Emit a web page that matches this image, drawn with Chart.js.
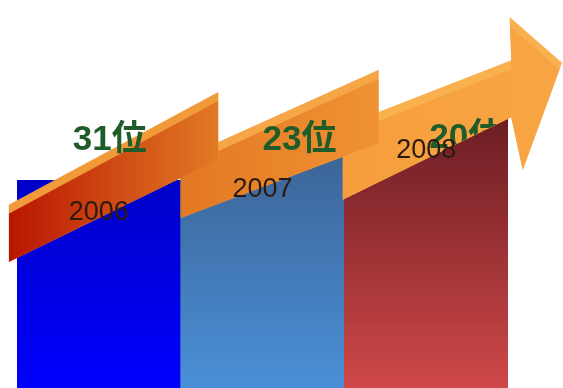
<!DOCTYPE html>
<html>
<head>
<meta charset="utf-8">
<script src="https://cdn.jsdelivr.net/npm/chart.js@4.4.1/dist/chart.umd.min.js"></script>
<style>
  html, body { margin: 0; padding: 0; background: #fff; }
  #wrap { width: 563px; height: 388px; position: relative; }
</style>
</head>
<body>
<div id="wrap"><canvas id="rankChart"></canvas></div>
<script>
// years and ranking
var years = ['2006', '2007', '2008'];
var rankLabels = ['31位', '23位', '20位'];
var barHeights = [53.5, 59.5, 69.5];

// arrow segments (x on the 0..3 category span, y on the 0..100 value scale)
var arrowLeft = [-0.05, 1.0, 1.99];
var arrowRight = [1.23, 2.21, 3.02];
var arrowTopL = [47.2, 59.0, 67.5];
var arrowTopR = [76.3, 82.0, 84.5];
var arrowBotL = [32.5, 43.8, 48.5];
var arrowBotR = [58.8, 63.1, 69.8];
// arrow head: top of base, tip, bottom point
var headX = [3.01, 3.33, 3.09];
var headY = [95.6, 83.8, 56.2];

var barColors = [
    ['#0000b4', '#0000ff'],
    ['#3a5c8a', '#4a90d8'],
    ['#681c22', '#cf4848']
];
var segColors = [
    {strip: '#f09a3a', front: ['#b81500', '#cf4a14', '#e27a24']},
    {strip: '#f6a646', front: ['#e27822', '#e9852b', '#ef9233']},
    {strip: '#f9b04e', front: ['#f69d3c', '#f7a13f', '#f8a442']}
];

var arrowPlugin = {
    id: 'arrowPlugin',
    afterDatasetsDraw: function (chart) {
        var ctx = chart.ctx;
        var xa = chart.scales.xArrow;
        var ys = chart.scales.y;
        var P = function (x, y) { return [xa.getPixelForValue(x), ys.getPixelForValue(y)]; };

        var segPoints = function (i) {
            var pts = [P(arrowLeft[i], arrowTopL[i]), P(arrowRight[i], arrowTopR[i])];
            if (i == 2) {
                for (var k = 0; k < headX.length; k++) {
                    pts.push(P(headX[k], headY[k]));
                }
            }
            pts.push(P(arrowRight[i], arrowBotR[i]));
            pts.push(P(arrowLeft[i], arrowBotL[i]));
            return pts;
        };
        var tracePath = function (pts) {
            ctx.beginPath();
            ctx.moveTo(pts[0][0], pts[0][1]);
            for (var k = 1; k < pts.length; k++) ctx.lineTo(pts[k][0], pts[k][1]);
            ctx.closePath();
        };

        ctx.save();
        // back to front
        for (var i = 2; i >= 0; i--) {
            var pts = segPoints(i);
            tracePath(pts);
            ctx.fillStyle = segColors[i].strip;
            ctx.fill();

            ctx.save();
            tracePath(pts);
            ctx.clip();
            ctx.translate(0, 9);
            var g = ctx.createLinearGradient(pts[0][0], 0, pts[1][0], 0);
            g.addColorStop(0, segColors[i].front[0]);
            g.addColorStop(0.5, segColors[i].front[1]);
            g.addColorStop(1, segColors[i].front[2]);
            tracePath(pts);
            ctx.fillStyle = g;
            ctx.fill();
            ctx.restore();
        }

        // labels
        var meta = chart.getDatasetMeta(0);
        var rankDx = [11, 37, 40];
        var rankDy = [-40, -17, 20];
        ctx.textAlign = 'center';
        ctx.textBaseline = 'middle';
        for (var j = 0; j < meta.data.length; j++) {
            var bar = meta.data[j];
            // rank label, hidden below the arrow's lower edge
            var a = P(arrowLeft[j], arrowBotL[j]);
            var b = P(arrowRight[j], arrowBotR[j]);
            var slope = (b[1] - a[1]) / (b[0] - a[0]);
            ctx.save();
            ctx.beginPath();
            ctx.moveTo(0, 0);
            ctx.lineTo(chart.width, 0);
            ctx.lineTo(chart.width, a[1] + slope * (chart.width - a[0]));
            ctx.lineTo(0, a[1] - slope * a[0]);
            ctx.closePath();
            ctx.clip();
            ctx.font = "bold 35px 'Liberation Sans', 'Noto Sans CJK JP', sans-serif";
            ctx.fillStyle = '#1f5c2a';
            ctx.fillText(rankLabels[j], bar.x + rankDx[j], bar.y + rankDy[j]);
            ctx.restore();

            ctx.font = "27px 'Liberation Sans', 'DejaVu Sans', sans-serif";
            ctx.fillStyle = '#2a1a12';
            ctx.fillText(years[j], bar.x, bar.y + 32);
        }
        ctx.restore();
    }
};

new Chart(document.getElementById('rankChart').getContext('2d'), {
    type: 'bar',
    data: {
        labels: years,
        datasets: [{
            data: barHeights,
            borderWidth: 0,
            barPercentage: 1,
            categoryPercentage: 1,
            backgroundColor: function (context) {
                var area = context.chart.chartArea;
                if (!area) return barColors[context.dataIndex][1];
                var c = barColors[context.dataIndex];
                var g = context.chart.ctx.createLinearGradient(0, area.top + 110, 0, area.bottom);
                g.addColorStop(0, c[0]);
                g.addColorStop(1, c[1]);
                return g;
            }
        }]
    },
    options: {
        responsive: true,
        maintainAspectRatio: false,
        animation: false,
        layout: {padding: {left: 17, right: 55, top: 0, bottom: 0}},
        plugins: {legend: {display: false}, tooltip: {enabled: false}},
        scales: {
            x: {display: false},
            xArrow: {type: 'linear', axis: 'x', position: 'bottom', display: false, offset: false, min: 0, max: 3},
            y: {display: false, min: 0, max: 100}
        }
    },
    plugins: [arrowPlugin]
});
</script>
</body>
</html>
